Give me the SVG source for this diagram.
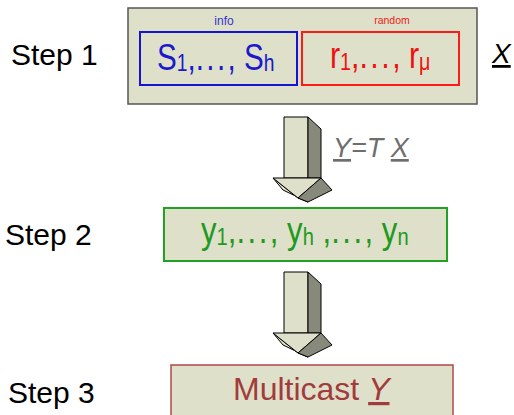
<svg xmlns="http://www.w3.org/2000/svg" width="514" height="415" viewBox="0 0 514 415">
<style>
.step{font-family:"Liberation Sans",Arial,sans-serif;font-size:30px;fill:#000}
.big{font-family:"Liberation Sans",Arial,sans-serif;font-size:37px}
.sub{font-size:24px}
.dots{letter-spacing:3px}
.lbl{font-family:"Liberation Sans",Arial,sans-serif}
.panel{fill:#dee0ca}
.al{fill:#dee0ca;stroke:#000;stroke-width:1;stroke-linejoin:round}
.ad{fill:#878a7a;stroke:#000;stroke-width:1;stroke-linejoin:round}
</style>
<rect width="514" height="415" fill="#fff"/>
<text class="step" x="11" y="65">Step 1</text>
<text class="step" x="5" y="245">Step 2</text>
<text class="step" x="8" y="403">Step 3</text>
<g id="step1">
<rect class="panel" x="128" y="8" width="349" height="96" stroke="#555" stroke-width="1.5"/>
<text class="lbl" x="224" y="25" font-size="12" fill="#3636c8" text-anchor="middle">info</text>
<text class="lbl" x="392" y="24" font-size="10.5" fill="#f02020" text-anchor="middle">random</text>
<rect x="140" y="32" width="157" height="53" fill="none" stroke="#1414d2" stroke-width="2"/>
<rect x="302" y="32" width="157" height="53" fill="none" stroke="#ff1a1a" stroke-width="2"/>
<text class="big" fill="#1a1acc" transform="translate(157,70) scale(0.8,1)">S<tspan class="sub" dy="1">1</tspan><tspan dy="-1">,</tspan><tspan class="dots">...</tspan>, S<tspan class="sub" dy="1">h</tspan></text>
<text class="big" fill="#f01010" transform="translate(330,68) scale(0.82,1)">r<tspan class="sub" dy="2">1</tspan><tspan dy="-2">,</tspan><tspan class="dots">...</tspan>, r<tspan class="sub" dy="2">μ</tspan></text>
<text class="lbl" x="492" y="63" font-size="28" font-style="italic" fill="#000" text-decoration="underline">X</text>
</g>
<g id="connectors">
<g id="arrow1" transform="translate(0,-155)">
<rect class="al" x="284" y="272" width="24" height="61"/>
<polygon class="ad" points="308,272 321,284 321,333 308,333"/>
<polygon class="al" points="273,333 283,345 308,357 298,353"/>
<polygon class="al" points="273,333 321,333 298,353"/>
<polygon class="ad" points="298,353 321,333 332,345 308,357"/>
</g>
<text class="lbl" x="333" y="157" font-size="27" font-style="italic" fill="#6e6e6e"><tspan text-decoration="underline">Y</tspan>=T <tspan text-decoration="underline">X</tspan></text>
<g id="arrow2">
<rect class="al" x="284" y="272" width="24" height="61"/>
<polygon class="ad" points="308,272 321,284 321,333 308,333"/>
<polygon class="al" points="273,333 283,345 308,357 298,353"/>
<polygon class="al" points="273,333 321,333 298,353"/>
<polygon class="ad" points="298,353 321,333 332,345 308,357"/>
</g>
</g>
<g id="step2">
<rect class="panel" x="164" y="208" width="283" height="53" stroke="#22a222" stroke-width="2"/>
<text class="big" fill="#1e9a1e" transform="translate(201,243) scale(0.84,1)">y<tspan class="sub" dy="2">1</tspan><tspan dy="-2">,</tspan><tspan class="dots">...</tspan>, y<tspan class="sub" dy="2">h</tspan><tspan dy="-2"> ,</tspan><tspan class="dots">...</tspan>, y<tspan class="sub" dy="2">n</tspan></text>
</g>
<g id="step3">
<rect class="panel" x="171" y="365" width="282" height="70" stroke="#b04848" stroke-width="1.5"/>
<text class="lbl" x="233" y="400" font-size="32" fill="#a23c3c">Multicast <tspan font-style="italic" text-decoration="underline">Y</tspan></text>
</g>
</svg>
